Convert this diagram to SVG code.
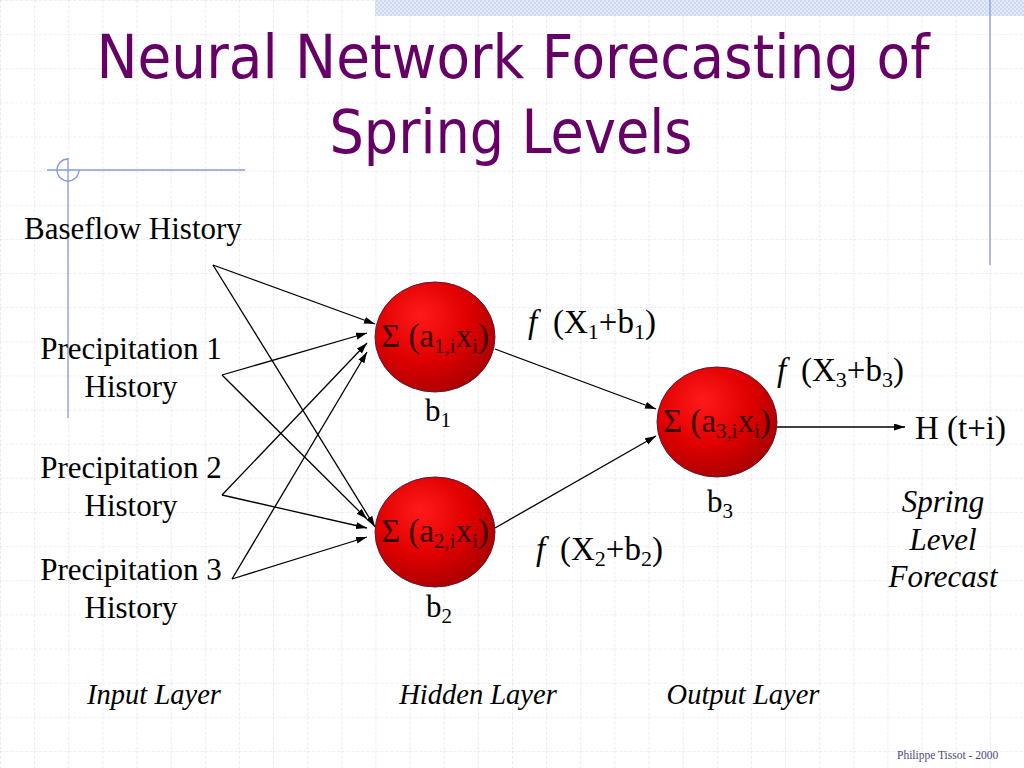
<svg xmlns="http://www.w3.org/2000/svg" width="1024" height="768" viewBox="0 0 1024 768">
<defs>
<pattern id="grid" patternUnits="userSpaceOnUse" width="34.133" height="34.133">
<line x1="0" y1="0" x2="34.133" y2="0" stroke="#d9dcf2" stroke-width="1.2" stroke-dasharray="3,2"/>
<line x1="0" y1="0" x2="0" y2="34.133" stroke="#d9dcf2" stroke-width="1.2" stroke-dasharray="3,2"/>
</pattern>
<pattern id="checker" patternUnits="userSpaceOnUse" width="4" height="4">
<rect width="4" height="4" fill="#e4eaf8"/>
<rect width="2" height="2" fill="#cdd8f2"/>
<rect x="2" y="2" width="2" height="2" fill="#cdd8f2"/>
</pattern>
<radialGradient id="ball" cx="0.4" cy="0.35" r="0.7" fx="0.38" fy="0.3">
<stop offset="0" stop-color="#ff1a1a"/>
<stop offset="0.55" stop-color="#e00000"/>
<stop offset="1" stop-color="#a80000"/>
</radialGradient>
<marker id="arr" markerUnits="userSpaceOnUse" markerWidth="12" markerHeight="8" refX="11" refY="3.5" orient="auto">
<path d="M0,0 L11,3.5 L0,7 z" fill="#000"/>
</marker>
</defs>
<style>
.t{font-family:"Liberation Serif","Times New Roman",serif;font-size:31px;fill:#000}
.f{font-family:"Liberation Serif","Times New Roman",serif;font-size:33px;fill:#000}
.it{font-style:italic}
.lay{font-family:"Liberation Serif","Times New Roman",serif;font-size:28.5px;font-style:italic;fill:#000}
.node ellipse{fill:url(#ball);stroke:#5a1a3a;stroke-width:1}
.nt{font-family:"Liberation Serif","Times New Roman",serif;font-size:33px;fill:#3a0000;text-anchor:middle}
.conn line{stroke:#000;stroke-width:1.3;marker-end:url(#arr)}
.deco{stroke:#8899dd;stroke-width:1.3;fill:none}
.title{font-family:"DejaVu Sans","Noto Sans",sans-serif;font-size:61px;fill:#660066;text-anchor:middle}
</style>
<rect width="1024" height="768" fill="#ffffff"/>
<rect width="1024" height="768" fill="url(#grid)"/>
<rect x="375" y="0" width="649" height="16" fill="url(#checker)"/>
<line class="deco" x1="990" y1="0" x2="990" y2="265"/>
<path class="deco" d="M68,159 A11,11 0 1 0 79,170"/>
<line class="deco" x1="47" y1="170" x2="245" y2="170"/>
<line class="deco" x1="68" y1="158" x2="68" y2="418"/>

<g id="title">
<text class="title" x="513" y="78" textLength="833" lengthAdjust="spacingAndGlyphs">Neural Network Forecasting of</text>
<text class="title" x="511" y="153" textLength="363" lengthAdjust="spacingAndGlyphs">Spring Levels</text>
</g>

<g id="inputs">
<text class="t" x="24" y="239">Baseflow History</text>
<text class="t" x="131" y="359" text-anchor="middle">Precipitation 1</text>
<text class="t" x="131" y="397" text-anchor="middle">History</text>
<text class="t" x="131" y="478" text-anchor="middle">Precipitation 2</text>
<text class="t" x="131" y="516" text-anchor="middle">History</text>
<text class="t" x="131" y="580" text-anchor="middle">Precipitation 3</text>
<text class="t" x="131" y="618" text-anchor="middle">History</text>
</g>

<g class="conn" id="connectors">
<line x1="213" y1="265" x2="375" y2="324"/>
<line x1="213" y1="265" x2="375" y2="527"/>
<line x1="222" y1="375" x2="367" y2="333"/>
<line x1="222" y1="375" x2="367" y2="519"/>
<line x1="222" y1="495" x2="367" y2="343"/>
<line x1="222" y1="495" x2="367" y2="528"/>
<line x1="232" y1="579" x2="367" y2="352"/>
<line x1="232" y1="579" x2="367" y2="537"/>
<line x1="495" y1="349" x2="656" y2="409"/>
<line x1="495" y1="528" x2="656" y2="436"/>
<line x1="777" y1="427" x2="905" y2="427"/>
</g>

<g class="node" id="hidden1">
<ellipse cx="435" cy="337" rx="60" ry="55"/>
<text class="nt" x="435" y="347">Σ (a<tspan font-size="21" dy="6">1,i</tspan><tspan dy="-6">x</tspan><tspan font-size="21" dy="6">i</tspan><tspan dy="-6">)</tspan></text>
<text class="t" x="425" y="421">b<tspan font-size="21" dy="6">1</tspan></text>
</g>

<g class="node" id="hidden2">
<ellipse cx="435" cy="532" rx="60" ry="55"/>
<text class="nt" x="435" y="542">Σ (a<tspan font-size="21" dy="6">2,i</tspan><tspan dy="-6">x</tspan><tspan font-size="21" dy="6">i</tspan><tspan dy="-6">)</tspan></text>
<text class="t" x="426" y="617">b<tspan font-size="21" dy="6">2</tspan></text>
</g>

<g class="node" id="output">
<ellipse cx="717" cy="422" rx="60" ry="55"/>
<text class="nt" x="717" y="432">Σ (a<tspan font-size="21" dy="6">3,i</tspan><tspan dy="-6">x</tspan><tspan font-size="21" dy="6">i</tspan><tspan dy="-6">)</tspan></text>
<text class="t" x="707" y="512">b<tspan font-size="21" dy="6">3</tspan></text>
</g>

<g id="functions">
<text class="f" x="528" y="333"><tspan class="it">f</tspan><tspan x="553">(X</tspan><tspan font-size="22" dy="6">1</tspan><tspan dy="-6">+b</tspan><tspan font-size="22" dy="6">1</tspan><tspan dy="-6">)</tspan></text>
<text class="f" x="777" y="381"><tspan class="it">f</tspan><tspan x="801">(X</tspan><tspan font-size="22" dy="6">3</tspan><tspan dy="-6">+b</tspan><tspan font-size="22" dy="6">3</tspan><tspan dy="-6">)</tspan></text>
<text class="f" x="536" y="560"><tspan class="it">f</tspan><tspan x="560">(X</tspan><tspan font-size="22" dy="6">2</tspan><tspan dy="-6">+b</tspan><tspan font-size="22" dy="6">2</tspan><tspan dy="-6">)</tspan></text>
</g>

<g id="result">
<text class="f" x="915" y="439">H (t+i)</text>
<text class="t it" x="943" y="512" text-anchor="middle">Spring</text>
<text class="t it" x="943" y="550" text-anchor="middle">Level</text>
<text class="t it" x="943" y="587" text-anchor="middle">Forecast</text>
</g>

<g id="layers">
<text class="lay" x="154" y="704" text-anchor="middle">Input Layer</text>
<text class="lay" x="478" y="704" text-anchor="middle">Hidden Layer</text>
<text class="lay" x="743" y="704" text-anchor="middle">Output Layer</text>
</g>

<text x="897" y="759" font-family="Liberation Serif, Times New Roman, serif" font-size="11.5" fill="#4a4a80">Philippe Tissot - 2000</text>
</svg>
